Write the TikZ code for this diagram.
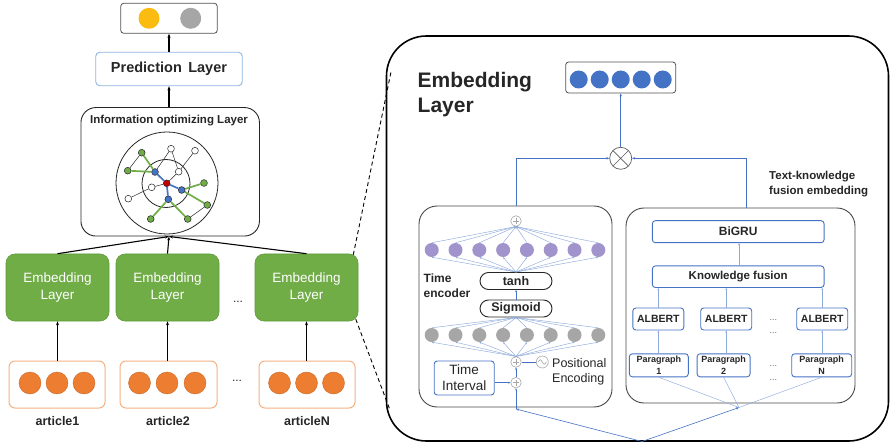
\documentclass[tikz,border=0pt]{standalone}
\usepackage{fontspec}
\setmainfont{Liberation Sans}
\usetikzlibrary{arrows.meta,calc}

\definecolor{ink}{HTML}{262626}
\definecolor{leaf}{HTML}{70AD47}
\definecolor{leafdark}{HTML}{5E9B3A}
\definecolor{tang}{HTML}{ED7D31}
\definecolor{tanglite}{HTML}{F4B183}
\definecolor{sky}{HTML}{4472C4}
\definecolor{skylite}{HTML}{8EAADB}
\definecolor{predline}{HTML}{8DB3E2}
\definecolor{lav}{HTML}{A193CC}
\definecolor{ash}{HTML}{A6A6A6}
\definecolor{sun}{HTML}{FBBC12}
\definecolor{crim}{HTML}{C00000}

\begin{document}
\begin{tikzpicture}[x=1pt,y=-1pt,
  every node/.style={text=ink, inner sep=0pt},
  tipk/.style={-{Stealth[length=4pt,width=3pt]}},
  tipb/.style={-{Stealth[length=3pt,width=2.4pt]}},
  tipf/.style={-{Stealth[length=2.2pt,width=1.8pt]}},
  blk/.style={draw=black, line width=1.1pt},
  lnk/.style={draw=sky, line width=0.6pt},
  fan/.style={draw=skylite, line width=0.45pt},
  outbox/.style={draw=ink!80, line width=0.8pt, rounded corners=3pt, minimum width=96.5pt, minimum height=30pt},
  predbox/.style={draw=predline, line width=0.9pt, rounded corners=4pt, minimum width=146.5pt, minimum height=33.5pt, font=\bfseries\fontsize{14.5}{17}\selectfont},
  infobox/.style={draw=ink, line width=0.9pt, rounded corners=15pt, minimum width=178.5pt, minimum height=128.5pt},
  embbox/.style={fill=leaf, draw=leafdark, line width=0.6pt, rounded corners=9pt, minimum width=103pt, minimum height=67pt, text=white, align=center, font=\fontsize{13.5}{16.5}\selectfont},
  artbox/.style={draw=tanglite, line width=1pt, rounded corners=6pt, minimum width=96pt, minimum height=47pt},
  ball/.style={circle, fill=tang, draw=tang!85!black, line width=0.4pt, minimum size=22pt},
  artlabel/.style={font=\bfseries\fontsize{12.5}{15}\selectfont},
  gdot/.style={circle, draw=ink, line width=0.5pt, fill=#1, minimum size=6.8pt},
  gthin/.style={draw=ink, line width=0.5pt},
  gleaf/.style={draw=leaf, line width=1.7pt},
  gsky/.style={draw=sky, line width=1.7pt},
  panelbox/.style={draw=black, line width=1.6pt, rounded corners=40pt, minimum width=502pt, minimum height=405pt},
  subbox/.style={draw=ink!85, line width=0.9pt, rounded corners=18pt},
  bluebox/.style={draw=sky, line width=0.9pt, rounded corners=3pt, fill=white},
  pill/.style={draw=ink, line width=0.9pt, rounded corners=8.5pt, minimum width=72pt, minimum height=17pt, font=\bfseries\fontsize{12.5}{15}\selectfont},
  neuron/.style={circle, fill=#1, minimum size=14pt},
  oplus/.style={circle, draw=ash, line width=0.6pt, fill=white, minimum size=10.5pt,
    path picture={\draw[ash, line width=0.5pt]
      ([yshift=-3.2pt]path picture bounding box.center) -- ([yshift=3.2pt]path picture bounding box.center)
      ([xshift=-3.2pt]path picture bounding box.center) -- ([xshift=3.2pt]path picture bounding box.center);}},
  otimes/.style={circle, draw=ink!75, line width=0.7pt, fill=white, minimum size=22pt,
    path picture={\draw[ink!75, line width=0.6pt]
      (path picture bounding box.north west) -- (path picture bounding box.south east)
      (path picture bounding box.north east) -- (path picture bounding box.south west);}},
  wave/.style={circle, draw=ash, line width=0.6pt, fill=white, minimum size=12pt,
    path picture={\draw[ash, line width=0.6pt]
      ([xshift=-4pt]path picture bounding box.center) sin ++(2,-2.2) cos ++(2,2.2) sin ++(2,2.2) cos ++(2,-2.2);}},
  dots/.style={text=ink!70, font=\fontsize{9}{10}\selectfont},
]
\useasboundingbox (0,0) rectangle (891,446);

% ---------------- left column ----------------
\node[outbox] (out) at (169,18.3) {};
\node[circle, fill=sun, minimum size=21pt] (yes) at (149,18.3) {};
\node[circle, fill=ash, minimum size=21pt] (no) at (190.7,18.3) {};

\node[predbox] (pred) at (169,69) {Prediction\;\,Layer};
\node[infobox] (info) at (170.2,171.8) {};
\node[font=\bfseries\fontsize{11.5}{14}\selectfont] (infot) at (169,120.7) {Information optimizing Layer};

\draw[blk, tipk] (pred.north) -- (out.south);
\draw[blk, tipk] (pred.south |- info.north) -- (pred.south);

% graph inside the optimizing layer
\node[circle, draw=ink, line width=0.8pt, minimum size=102pt] (ringA) at (167,183) {};
\node[circle, draw=ink, line width=0.8pt, minimum size=48pt] (ringB) at (166,183.5) {};

\node[gdot=crim] (r0) at (166.7,183.3) {};
\node[gdot=sky] (b1) at (155,172) {};
\node[gdot=sky] (b2) at (181.7,190) {};
\node[gdot=sky] (b3) at (168.3,199.3) {};
\node[gdot=leaf] (g1) at (141.7,152.7) {};
\node[gdot=leaf] (g2) at (127.7,170.7) {};
\node[gdot=leaf] (g3) at (204,183) {};
\node[gdot=leaf] (g4) at (207.3,205) {};
\node[gdot=leaf] (g5) at (150.7,219) {};
\node[gdot=leaf] (g6) at (187.7,219) {};
\node[gdot=white] (w1) at (171,148.7) {};
\node[gdot=white] (w2) at (195,150.7) {};
\node[gdot=white] (w3) at (178.7,171.7) {};
\node[gdot=white] (w4) at (151.7,187.3) {};
\node[gdot=white] (w5) at (128.3,198.7) {};

\draw[gsky] (r0) -- (b1) (r0) -- (b2) (r0) -- (b3);
\draw[gleaf] (b1) -- (g1) (b1) -- (g2) (b2) -- (g3) (b2) -- (g4) (b3) -- (g5) (b3) -- (g6);
\draw[gthin] (g1) -- (g2) (w1) -- (b1) (w1) -- (w3) (w2) -- (w3) (w3) -- (r0)
  (w4) -- (r0) (w4) -- (w5) (g4) -- (g6);

% embedding blocks
\node[embbox] (emb1) at (57.5,287.5) {Embedding\\Layer};
\node[embbox] (emb2) at (167.5,287.5) {Embedding\\Layer};
\node[embbox] (emb3) at (306.5,287.5) {Embedding\\Layer};
\node[font=\fontsize{12}{14}\selectfont] (edots) at (238,302) {...};

\draw[blk, tipk] (emb1.north) -- (pred.south |- info.south);
\draw[blk, tipk] (emb2.north) -- (pred.south |- info.south);
\draw[blk, tipk] (emb3.north) -- (pred.south |- info.south);

% article inputs
\node[artbox] (art1) at (57,384.5) {};
\node[artbox, minimum width=97pt] (art2) at (168.5,384.5) {};
\node[artbox] (art3) at (307,384.5) {};
\node[ball] (a11) at (30,383) {};
\node[ball] (a12) at (57,383) {};
\node[ball] (a13) at (84,383) {};
\node[ball] (a21) at (139.5,383) {};
\node[ball] (a22) at (167,383) {};
\node[ball] (a23) at (195,383) {};
\node[ball] (a31) at (279.5,383) {};
\node[ball] (a32) at (306.5,383) {};
\node[ball] (a33) at (333.5,383) {};
\node[font=\fontsize{12}{14}\selectfont] (adots) at (237,381) {...};

\node[artlabel] (lab1) at (57.5,421) {article1};
\node[artlabel] (lab2) at (168,421) {article2};
\node[artlabel] (lab3) at (307,421) {articleN};

\draw[blk, tipk] (art1.north -| emb1.south) -- (emb1.south);
\draw[blk, tipk] (art2.north -| emb2.south) -- (emb2.south);
\draw[blk, tipk] (art3.north -| emb3.south) -- (emb3.south);

% zoom guides towards the detail panel
\coordinate (zt) at (391,72);
\coordinate (zb) at (390,410);
\draw[black, line width=0.9pt, dash pattern=on 4pt off 3pt] ([shift={(-5,1)}]emb3.north east) -- (zt);
\draw[black, line width=0.9pt, dash pattern=on 4pt off 3pt] ([shift={(-2.5,-2)}]emb3.south east) -- (zb);

% ---------------- detail panel ----------------
\node[panelbox] (panel) at (637.5,238.5) {};
\node[anchor=base west, font=\bfseries\fontsize{21}{25}\selectfont] (title1) at (417.5,87.3) {Embedding};
\node[anchor=base west, font=\bfseries\fontsize{21}{25}\selectfont] (title2) at (417.5,112.7) {Layer};

\node[draw=ink!80, line width=0.8pt, rounded corners=3pt, minimum width=110pt, minimum height=31pt] (bout) at (620.7,77.5) {};
\foreach \i/\xx in {1/578.7,2/599.7,3/620.7,4/641.7,5/662.7}
  \node[circle, fill=sky, minimum size=18pt] (v\i) at (\xx,79.5) {};

\node[otimes] (mix) at (620.7,158.3) {};
\draw[lnk, tipb] (mix.north) -- (mix.north |- bout.south);

\node[anchor=west, align=left, font=\bfseries\fontsize{11.5}{15}\selectfont] (tkf) at (769,184.5) {Text-knowledge\\fusion embedding};

\node[subbox, minimum width=193pt, minimum height=201pt] (tenc) at (515.5,306.5) {};
\node[subbox, minimum width=229pt, minimum height=195pt] (kbox) at (740.5,305.5) {};

\draw[lnk, tipb] ([xshift=0.5pt]tenc.north) |- (mix.west);
\draw[lnk, tipb] ([xshift=6.2pt]kbox.north) |- (mix.east);

% time encoder
\node[oplus] (ot) at (516,221) {};
\foreach \i in {1,...,8}
  \node[neuron=lav] (p\i) at ({431.7+23.8*(\i-1)},250) {};
\node[pill] (tanh) at (516,281) {tanh};
\node[pill] (sig) at (516,308.5) {Sigmoid};
\foreach \i in {1,...,8}
  \node[neuron=ash] (q\i) at ({431.7+23.8*(\i-1)},335) {};
\node[oplus] (oa) at (516,362) {};
\node[oplus] (ob) at (516,382.7) {};
\node[wave] (pe) at (542.3,362) {};

\foreach \i in {1,...,8} {
  \draw[fan, tipf] (p\i.north) -- (ot.south);
  \draw[fan, tipf] (tanh.north) -- (p\i.south);
  \draw[fan, tipf] (q\i.north) -- (sig.south);
  \draw[fan, tipf] (oa.north) -- (q\i.south);
}
\draw[lnk, tipf] (sig.north) -- (tanh.south);

\node[anchor=west, align=left, font=\bfseries\fontsize{12}{15}\selectfont] (tet) at (423.5,285.5) {Time\\encoder};
\node[anchor=west, align=left, font=\fontsize{12.5}{15}\selectfont] (pet) at (552,371.5) {Positional\\Encoding};
\node[bluebox, minimum width=60pt, minimum height=34pt, align=center, font=\fontsize{13.5}{16}\selectfont] (ti) at (464.2,378) {Time\\Interval};

\draw[lnk] (pe.west) -- (oa.east);
\draw[lnk, tipf] (ti.east |- ob) -- (ob.west);
\draw[lnk, tipf] (ob.north) -- (oa.south);

% knowledge branch
\node[bluebox, minimum width=171.7pt, minimum height=22pt, font=\bfseries\fontsize{12}{14}\selectfont] (bigru) at (738.2,231.7) {BiGRU};
\node[bluebox, minimum width=171.7pt, minimum height=21.5pt, font=\bfseries\fontsize{11.5}{14}\selectfont] (kf) at (738.2,276.7) {Knowledge fusion};
\node[bluebox, minimum width=51pt, minimum height=22pt, font=\bfseries\fontsize{10.5}{12}\selectfont] (al1) at (658.3,319) {ALBERT};
\node[bluebox, minimum width=51pt, minimum height=22pt, font=\bfseries\fontsize{10.5}{12}\selectfont] (al2) at (726.2,319) {ALBERT};
\node[bluebox, minimum width=51pt, minimum height=22pt, font=\bfseries\fontsize{10.5}{12}\selectfont] (al3) at (822.2,319) {ALBERT};
\node[bluebox, minimum width=59pt, minimum height=23pt, align=center, font=\bfseries\fontsize{9}{11.5}\selectfont] (pa1) at (658.8,365.3) {Paragraph\\1};
\node[bluebox, minimum width=53pt, minimum height=23pt, align=center, font=\bfseries\fontsize{9}{11.5}\selectfont] (pa2) at (723.6,365.3) {Paragraph\\2};
\node[bluebox, minimum width=60pt, minimum height=23pt, align=center, font=\bfseries\fontsize{9}{11.5}\selectfont] (pa3) at (821.7,365.3) {Paragraph\\N};

\node[dots] (kd1) at (773.3,320.5) {...};
\node[dots] (kd2) at (773.3,333.5) {...};
\node[dots] (kd3) at (773.3,366.5) {...};
\node[dots] (kd4) at (773.3,380) {...};

\draw[fan, tipf] ([xshift=0.8pt]kf.north) -- ([xshift=0.8pt]kf.north |- bigru.south);
\draw[fan, tipf] (al1.north) -- (al1.north |- kf.south);
\draw[fan, tipf] (al2.north) -- (al2.north |- kf.south);
\draw[fan, tipf] (al3.north) -- (al3.north |- kf.south);
\draw[fan, tipf] (al1.south |- pa1.north) -- (al1.south);
\draw[fan, tipf] (al2.south |- pa2.north) -- (al2.south);
\draw[fan, tipf] (al3.south |- pa3.north) -- (al3.south);

% shared input feeding both branches
\coordinate (src) at (642,441.5);
\coordinate (tin) at (516,409);
\coordinate (kin) at (739,407.5);
\draw[lnk, tipb] (src) -- (tin);
\draw[lnk, tipb] (src) -- (kin);
\draw[lnk, tipf] (tin) -- (ob.south);
\draw[fan] (kin) -- (pa1.south);
\draw[fan] (kin) -- (pa2.south);
\draw[fan] (kin) -- (pa3.south);
\end{tikzpicture}
\end{document}
